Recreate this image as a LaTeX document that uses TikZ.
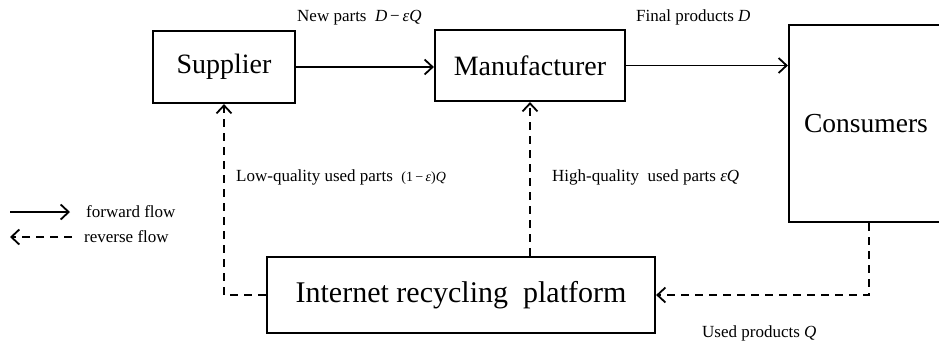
\documentclass[tikz,border=0pt]{standalone}
\usepackage{fontspec}
\setmainfont{Liberation Serif}
\usetikzlibrary{arrows.meta}

\tikzset{
  box/.style={draw, line width=2.2pt, inner sep=0pt, font=\fontsize{28}{30}\selectfont},
  flow/.style={line width=1.8pt, -{Straight Barb[length=8pt,width=15pt,line width=1.8pt]}},
  rflow/.style={flow, dash pattern=on 8pt off 6pt},
  lbl/.style={anchor=west, inner sep=0pt, font=\fontsize{17}{19}\selectfont},
}

\begin{document}
\begin{tikzpicture}[x=1pt,y=1pt,yscale=-1,xscale=1]
\clip (0,0) rectangle (939,346);

% Boxes
\node[box, minimum width=142, minimum height=72] (supplier) at (224,67) {Supplier};
\node[box, minimum width=190, minimum height=71] (manufacturer) at (530,65.5) {Manufacturer};
\node[box, minimum width=160, minimum height=197, font=\fontsize{27.5}{29}\selectfont] (consumers) at (869,123.5) {\hspace*{-6pt}Consumers};
\node[box, minimum width=388, minimum height=76, font=\fontsize{30}{32}\selectfont] (platform) at (461,295) {Internet\ recycling\ \ platform};

% forward flow
\draw[flow] (supplier.east) -- (supplier.east -| manufacturer.west);
\draw[flow] (manufacturer.east) -- (manufacturer.east -| consumers.west);

% reverse flow
\draw[rflow] (platform.west) -| (supplier.south);
\draw[rflow] (manufacturer.south |- platform.north) -- (manufacturer.south);
\draw[rflow] (consumers.south) |- (platform.east);

% Labels
\node[lbl] (newparts) at (297,18) {New parts\ \ \textit{D}\,−\,\textit{εQ}};
\node[lbl] (finalprod) at (636,17) {Final products \textit{D}};
\node[lbl] (lowq) at (236,177) {Low-quality used parts\ \ {\fontsize{14}{16}\selectfont(1\,−\,\textit{ε})\textit{Q}}};
\node[lbl] (highq) at (552,177) {High-quality\ \ used parts \textit{εQ}};
\node[lbl] (usedprod) at (702,333) {Used products \textit{Q}};

% Legend
\coordinate (fwdA) at (10,212);
\coordinate (fwdB) at (70,212);
\coordinate (revA) at (72,237);
\coordinate (revB) at (10,237);
\draw[flow] (fwdA) -- (fwdB);
\draw[rflow] (revA) -- (revB);
\node[lbl] (fwdtext) at (86,212) {forward flow};
\node[lbl] (revtext) at (84,237) {reverse flow};
\end{tikzpicture}
\end{document}
